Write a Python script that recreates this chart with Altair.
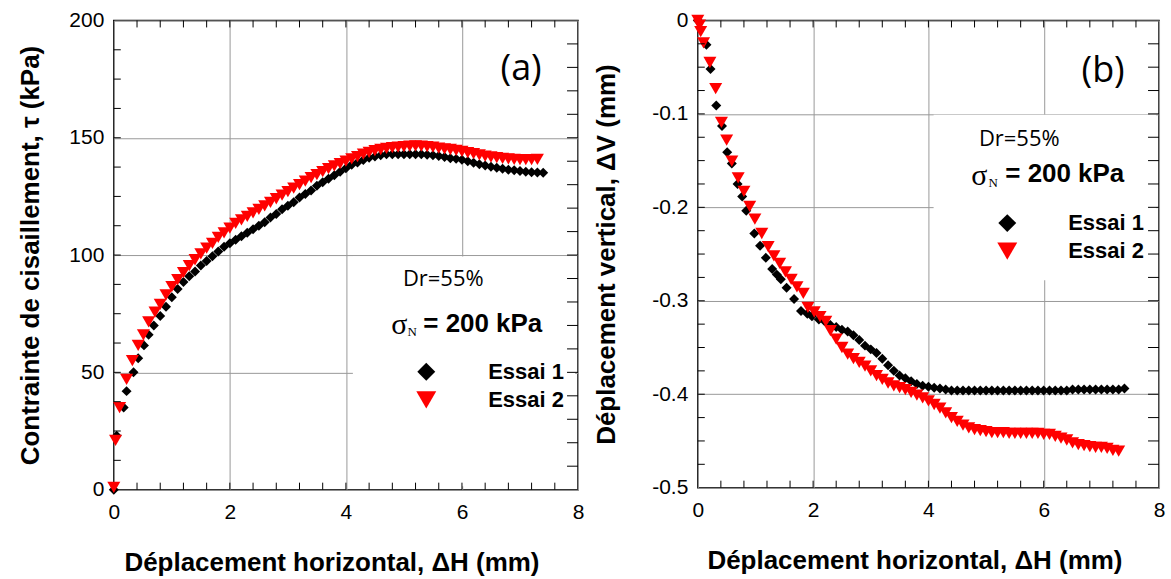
import altair as alt
import pandas as pd

# ---------------- data ----------------
# Panel (a): shear stress vs horizontal displacement
a_e1_x = [0, 0.05, 0.17, 0.22, 0.34, 0.42, 0.52, 0.60, 0.69, 0.80, 0.90,
          1.0, 1.1, 1.2, 1.3, 1.4, 1.5, 1.6, 1.7, 1.8, 1.9,
          2.0, 2.1, 2.2, 2.3, 2.4, 2.5, 2.6, 2.7, 2.8, 2.9,
          3.0, 3.1, 3.2, 3.3, 3.4, 3.5, 3.6, 3.7, 3.8, 3.9,
          4.0, 4.1, 4.2, 4.3, 4.4, 4.5, 4.6, 4.7, 4.8, 4.9,
          5.0, 5.1, 5.2, 5.3, 5.4, 5.5, 5.6, 5.7, 5.8, 5.9,
          6.0, 6.1, 6.2, 6.3, 6.4, 6.5, 6.6, 6.7, 6.8, 6.9,
          7.0, 7.1, 7.2, 7.3, 7.4]
a_e1_y = [0, 23, 35, 42, 50, 56, 61.5, 66, 70, 74, 78,
          82, 85.5, 88.5, 91, 93, 95.5, 97.5, 99.5, 101.5, 103.5,
          105, 106.5, 108, 109.5, 111, 112.5, 114, 116, 117.5, 119.5,
          121, 122.5, 124.5, 126, 127.5, 129.5, 131, 132.5, 134, 135.5,
          137, 138.5, 139.5, 140.5, 141.5, 142, 142.5, 143, 143, 143,
          143, 143, 143, 143, 142.8, 142.5, 142.2, 141.8, 141.3, 141,
          140.6, 140, 139.3, 138.7, 138.2, 137.6, 137.2, 136.8, 136.4, 136.2,
          135.8, 135.5, 135.3, 135.2, 135.1]
a_e2_x = [0, 0.03, 0.10, 0.22, 0.32, 0.42, 0.51, 0.60, 0.71, 0.80, 0.90,
          1.0, 1.1, 1.2, 1.3, 1.4, 1.5, 1.6, 1.7, 1.8, 1.9,
          2.0, 2.1, 2.2, 2.3, 2.4, 2.5, 2.6, 2.7, 2.8, 2.9,
          3.0, 3.1, 3.2, 3.3, 3.4, 3.5, 3.6, 3.7, 3.8, 3.9,
          4.0, 4.1, 4.2, 4.3, 4.4, 4.5, 4.6, 4.7, 4.8, 4.9,
          5.0, 5.1, 5.2, 5.3, 5.4, 5.5, 5.6, 5.7, 5.8, 5.9,
          6.0, 6.1, 6.2, 6.3, 6.4, 6.5, 6.6, 6.7, 6.8, 6.9,
          7.0, 7.1, 7.2, 7.3]
a_e2_y = [1, 21, 35, 47, 55, 61.5, 66, 71.5, 75.7, 79, 83,
          86.5, 89.5, 92.5, 95.5, 98, 100.5, 103, 105, 107.5, 109.5,
          111.5, 113.5, 115, 116.5, 118, 119.5, 121, 122.5, 124, 125.5,
          127, 128.5, 130, 131.5, 133, 134.3, 135.6, 136.8, 138, 139,
          140, 141, 142, 143, 143.8, 144.5, 145, 145.5, 145.8, 146,
          146.2, 146.4, 146.5, 146.4, 146.2, 146, 145.6, 145.3, 145, 144.6,
          144.2, 143.7, 143.2, 142.7, 142.2, 141.8, 141.5, 141.2, 141, 140.8,
          140.7, 140.7, 140.7, 140.8]

# Panel (b): vertical vs horizontal displacement
b_e1_x = [0, 0.15, 0.22, 0.32, 0.42, 0.51, 0.59, 0.69, 0.77, 0.84, 0.98,
          1.08, 1.18, 1.29, 1.37, 1.44, 1.54, 1.67, 1.79, 1.90, 1.98,
          2.1, 2.2, 2.3, 2.4, 2.5, 2.6, 2.7, 2.8, 2.9,
          3.0, 3.1, 3.2, 3.3, 3.4, 3.5, 3.6, 3.7, 3.8, 3.9,
          4.0, 4.1, 4.2, 4.3, 4.4, 4.5, 4.6, 4.7, 4.8, 4.9,
          5.0, 5.1, 5.2, 5.3, 5.4, 5.5, 5.6, 5.7, 5.8, 5.9,
          6.0, 6.1, 6.2, 6.3, 6.4, 6.5, 6.6, 6.7, 6.8, 6.9,
          7.0, 7.1, 7.2, 7.3, 7.4]
b_e1_y = [0, -0.026, -0.052, -0.091, -0.113, -0.141, -0.153, -0.175, -0.1885, -0.2036, -0.228,
          -0.241, -0.254, -0.266, -0.272, -0.277, -0.286, -0.298, -0.311, -0.314, -0.3165,
          -0.320, -0.322, -0.326, -0.328, -0.331, -0.333, -0.337, -0.342, -0.348,
          -0.352, -0.356, -0.362, -0.369, -0.375, -0.380, -0.383, -0.386, -0.389, -0.391,
          -0.392, -0.393, -0.394, -0.395, -0.396, -0.396, -0.396, -0.396, -0.396, -0.396,
          -0.396, -0.396, -0.396, -0.396, -0.396, -0.396, -0.396, -0.396, -0.396, -0.396,
          -0.396, -0.396, -0.396, -0.396, -0.396, -0.395, -0.395, -0.395, -0.395, -0.395,
          -0.395, -0.395, -0.395, -0.395, -0.394]
b_e2_x = [0, 0.03, 0.05, 0.10, 0.21, 0.31, 0.41, 0.50, 0.59, 0.70, 0.80, 0.90,
          0.99, 1.11, 1.22, 1.32, 1.42, 1.52, 1.62, 1.72, 1.83, 1.91,
          2.02, 2.12, 2.22, 2.30, 2.40, 2.50, 2.60, 2.70, 2.80, 2.90,
          3.0, 3.1, 3.2, 3.3, 3.4, 3.5, 3.6, 3.7, 3.8, 3.9,
          4.0, 4.1, 4.2, 4.3, 4.4, 4.5, 4.6, 4.7, 4.8, 4.9,
          5.0, 5.1, 5.2, 5.3, 5.4, 5.5, 5.6, 5.7, 5.8, 5.9,
          6.0, 6.1, 6.2, 6.3, 6.4, 6.5, 6.6, 6.7, 6.8, 6.9,
          7.0, 7.1, 7.2, 7.3]
b_e2_y = [0, -0.005, -0.012, -0.024, -0.045, -0.073, -0.109, -0.128, -0.1505, -0.1685, -0.183, -0.199,
          -0.2125, -0.228, -0.242, -0.252, -0.260, -0.269, -0.277, -0.285, -0.292, -0.307,
          -0.312, -0.317, -0.322, -0.332, -0.341, -0.350, -0.357, -0.362, -0.366, -0.370,
          -0.375, -0.380, -0.384, -0.388, -0.391, -0.393, -0.395, -0.398, -0.401, -0.404,
          -0.407, -0.411, -0.415, -0.420, -0.425, -0.429, -0.433, -0.436, -0.438, -0.439,
          -0.440, -0.441, -0.441, -0.441, -0.442, -0.442, -0.442, -0.442, -0.442, -0.442,
          -0.443, -0.443, -0.445, -0.447, -0.449, -0.452, -0.454, -0.455, -0.456, -0.457,
          -0.457, -0.458, -0.460, -0.461]

# axis ticks / labels
x_major = [0, 2, 4, 6, 8]
a_y_major = [0, 50, 100, 150, 200]
b_y_major = [0, -0.1, -0.2, -0.3, -0.4, -0.5]
x_minor = [0.4, 0.8, 1.2, 1.6, 2, 2.4, 2.8, 3.2, 3.6, 4, 4.4, 4.8, 5.2, 5.6, 6, 6.4, 6.8, 7.2, 7.6]
a_y_minor_left = [12.5, 25, 37.5, 50, 62.5, 75, 87.5, 100, 112.5, 125, 137.5, 150, 162.5, 175, 187.5]
a_y_minor_right = [10, 20, 30, 40, 50, 60, 70, 80, 90, 100, 110, 120, 130, 140, 150, 160, 170, 180, 190]
b_y_minor = [-0.025, -0.05, -0.075, -0.1, -0.125, -0.15, -0.175, -0.2, -0.225, -0.25, -0.275,
             -0.3, -0.325, -0.35, -0.375, -0.4, -0.425, -0.45, -0.475]

# texts
x_title = "Déplacement horizontal, ΔH (mm)"
a_y_title = "Contrainte de cisaillement, τ (kPa)"
b_y_title = "Déplacement vertical, ΔV (mm)"
panel_tags = ["(a)", "(b)"]
dr_text = "Dr=55%"
sigma_text = "σ"
sigma_sub = "N"
sigma_val = "= 200 kPa"
series_names = ["Essai 1", "Essai 2"]

SANS = "Liberation Sans"
SERIF = "Liberation Serif"


def txt(s, x, y, size, font=SANS, weight="normal", align="left"):
    return alt.Chart(pd.DataFrame({"t": [s]})).mark_text(
        font=font, fontSize=size, fontWeight=weight, align=align,
        baseline="middle", color="black"
    ).encode(text="t:N", x=alt.value(x), y=alt.value(y))


def panel(W, H, ydom, e1x, e1y, e2x, e2y, y_major, y_title, ylabel_expr,
          y_minor_l, y_minor_r, mask, pos, tag, y_title_x, x_title_x):
    xs = alt.Scale(domain=[0, 8], nice=False, zero=False)
    ys = alt.Scale(domain=ydom, nice=False, zero=False)
    xaxis = alt.Axis(values=x_major, grid=True, gridColor="#999999", gridWidth=1,
                     ticks=False, tickSize=0, domain=False, labelFlush=False,
                     labelOverlap=False, labelFont=SANS, labelFontSize=21,
                     labelColor="black", labelPadding=12, title=x_title,
                     titleFont=SANS, titleFontSize=26, titleFontWeight="bold",
                     titleColor="black", titleX=x_title_x, titleY=73,
                     titleBaseline="middle")
    yaxis = alt.Axis(values=y_major, grid=True, gridColor="#999999", gridWidth=1,
                     ticks=False, tickSize=0, domain=False, labelFlush=False,
                     labelOverlap=False, labelFont=SANS, labelFontSize=21,
                     labelColor="black", labelPadding=10, labelExpr=ylabel_expr,
                     title=y_title, titleFont=SANS, titleFontSize=26,
                     titleFontWeight="bold", titleColor="black",
                     titleX=y_title_x, titleY=H / 2, titleBaseline="middle")

    def X(f):
        return alt.X(f, scale=xs, axis=xaxis)

    def Y(f):
        return alt.Y(f, scale=ys, axis=yaxis)

    d1 = pd.DataFrame({"x": e1x, "y": e1y, "s": series_names[0]})
    d2 = pd.DataFrame({"x": e2x, "y": e2y, "s": series_names[1]})

    m = pd.DataFrame({"x": [mask[0]], "x1": [mask[1]], "y": [mask[2]], "y1": [mask[3]]})
    mask_layer = alt.Chart(m).mark_rect(color="white").encode(
        x=X("x:Q"), x2="x1:Q", y=Y("y:Q"), y2="y1:Q")

    p1 = alt.Chart(d1).mark_point(shape="diamond", filled=True, color="black",
                                  size=100, opacity=1).encode(x=X("x:Q"), y=Y("y:Q"))
    p2 = alt.Chart(d2).mark_point(shape="triangle-down", filled=True, color="red",
                                  size=170, opacity=1).encode(x=X("x:Q"), y=Y("y:Q"))

    tx = pd.DataFrame({"x": x_minor})
    t_bottom = alt.Chart(tx).mark_rule(color="black", strokeWidth=1).encode(
        x=X("x:Q"), y=alt.value(H), y2=alt.value(H - 7))
    t_top = alt.Chart(tx).mark_rule(color="black", strokeWidth=1).encode(
        x=X("x:Q"), y=alt.value(0), y2=alt.value(7))
    t_left = alt.Chart(pd.DataFrame({"y": y_minor_l})).mark_rule(color="black", strokeWidth=1).encode(
        y=Y("y:Q"), x=alt.value(0), x2=alt.value(7))
    t_right = alt.Chart(pd.DataFrame({"y": y_minor_r})).mark_rule(color="black", strokeWidth=1).encode(
        y=Y("y:Q"), x=alt.value(W), x2=alt.value(W - 11))

    leg1 = alt.Chart(pd.DataFrame({"s": [series_names[0]]})).mark_point(
        shape="diamond", filled=True, color="black", size=324, opacity=1).encode(
        x=alt.value(pos["sym_x"]), y=alt.value(pos["e1_y"]))
    leg2 = alt.Chart(pd.DataFrame({"s": [series_names[1]]})).mark_point(
        shape="triangle-down", filled=True, color="red", size=400, opacity=1).encode(
        x=alt.value(pos["sym_x"]), y=alt.value(pos["e2_y"]))

    texts = [
        txt(tag, pos["tag"][0], pos["tag"][1], 36, font="Open Sans", align="center"),
        txt(dr_text, pos["dr"][0], pos["dr"][1], 22, font="Open Sans", align="center"),
        txt(sigma_text, pos["sig"][0], pos["sig"][1], 30, font=SERIF, align="center"),
        txt(sigma_sub, pos["sub"][0], pos["sub"][1], 13, font=SERIF, align="center"),
        txt(sigma_val, pos["val"][0], pos["val"][1], 26, weight="bold"),
        txt(series_names[0], pos["lab_x"], pos["e1_y"], 22, weight="bold"),
        txt(series_names[1], pos["lab_x"], pos["e2_y"], 22, weight="bold"),
    ]

    return alt.layer(mask_layer, p1, p2, t_bottom, t_top, t_left, t_right,
                     leg1, leg2, *texts).properties(width=W, height=H)


pos_a = {"tag": (408, 49), "dr": (330, 259), "sig": (286, 305), "sub": (299, 312),
         "val": (310, 304), "sym_x": 313, "lab_x": 375, "e1_y": 352, "e2_y": 380}
pos_b = {"tag": (406, 51), "dr": (322, 119), "sig": (282, 156), "sub": (296, 163),
         "val": (308, 154), "sym_x": 310, "lab_x": 371, "e1_y": 203, "e2_y": 231}

left = panel(465, 470, [0, 200], a_e1_x, a_e1_y, a_e2_x, a_e2_y, a_y_major, a_y_title,
             "datum.label", a_y_minor_left, a_y_minor_right,
             (4.12, 7.95, 1.5, 99.4), pos_a, panel_tags[0], -83, 218)
right = panel(462, 468, [-0.5, 0], b_e1_x, b_e1_y, b_e2_x, b_e2_y, b_y_major, b_y_title,
              "datum.value == 0 ? '0' : '-' + format(-datum.value, '.1f')",
              b_y_minor, b_y_minor, (4.09, 7.95, -0.278, -0.101), pos_b, panel_tags[1],
              -91, 217)

chart = alt.hconcat(left, right, spacing=8).properties(
    padding={"left": 17, "top": 8, "right": 5, "bottom": 2}
).configure(background="white").configure_view(stroke="black", strokeWidth=1.5)

chart.save("out.html", embed_options={"renderer": "svg", "actions": False})
